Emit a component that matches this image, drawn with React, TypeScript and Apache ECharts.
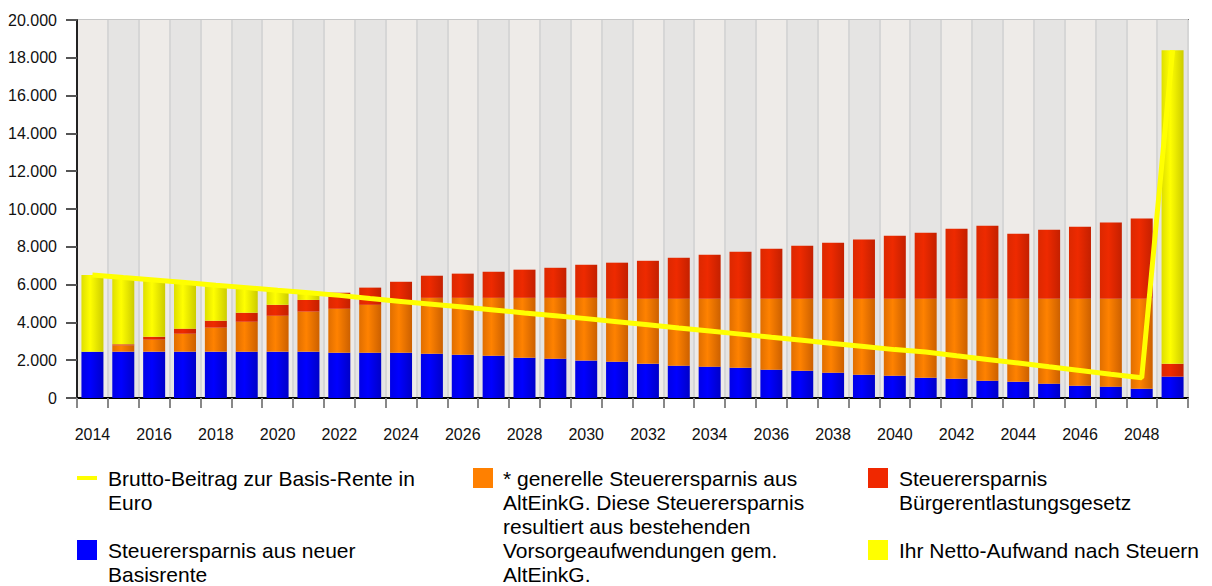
import React, { useEffect, useRef } from "react";
import * as echarts from "echarts";

const years = [
  "2014", "2015", "2016", "2017", "2018", "2019", "2020", "2021", "2022", "2023",
  "2024", "2025", "2026", "2027", "2028", "2029", "2030", "2031", "2032", "2033",
  "2034", "2035", "2036", "2037", "2038", "2039", "2040", "2041", "2042", "2043",
  "2044", "2045", "2046", "2047", "2048", "2049",
];

// Steuerersparnis aus neuer Basisrente (blue)
const blueSaving = [
  2450, 2450, 2450, 2450, 2450, 2450, 2450, 2450, 2400, 2400,
  2400, 2340, 2290, 2240, 2130, 2080, 1980, 1920, 1810, 1710,
  1660, 1600, 1500, 1440, 1340, 1230, 1180, 1070, 1020, 915,
  860, 760, 650, 600, 490, 1130,
];

// * generelle Steuerersparnis aus AltEinkG (orange)
const orangeSaving = [
  0, 335, 635, 950, 1270, 1590, 1900, 2120, 2320, 2530,
  2780, 2960, 3010, 3060, 3170, 3220, 3320, 3330, 3440, 3540,
  3590, 3650, 3750, 3810, 3910, 4020, 4070, 4180, 4230, 4335,
  4390, 4490, 4600, 4650, 4760, 0,
];

// Steuerersparnis Bürgerentlastungsgesetz (red)
const redSaving = [
  0, 55, 155, 270, 370, 470, 580, 620, 850, 910,
  970, 1170, 1280, 1380, 1490, 1590, 1750, 1910, 2010, 2170,
  2330, 2490, 2650, 2810, 2970, 3130, 3340, 3500, 3710, 3870,
  3440, 3650, 3810, 4030, 4250, 680,
];

// Ihr Netto-Aufwand nach Steuern (yellow)
const netCost = [
  4060, 3530, 3000, 2440, 1880, 1330, 770, 380, 0, 0,
  0, 0, 0, 0, 0, 0, 0, 0, 0, 0,
  0, 0, 0, 0, 0, 0, 0, 0, 0, 0,
  0, 0, 0, 0, 0, 16590,
];

// Brutto-Beitrag zur Basis-Rente in Euro (line)
const grossContribution = [
  6510, 6370, 6240, 6110, 5970, 5840, 5700, 5570, 5430, 5260,
  5110, 4960, 4810, 4660, 4500, 4350, 4200, 4040, 3870, 3700,
  3540, 3380, 3210, 3050, 2880, 2720, 2560, 2430, 2230, 2040,
  1850, 1650, 1460, 1260, 1070, 18400,
];

const nameGross = "Brutto-Beitrag zur Basis-Rente in\nEuro";
const nameBlue = "Steuerersparnis aus neuer\nBasisrente";
const nameOrange =
  "* generelle Steuerersparnis aus\nAltEinkG. Diese Steuerersparnis\nresultiert aus bestehenden\nVorsorgeaufwendungen gem.\nAltEinkG.";
const nameRed = "Steuerersparnis\nBürgerentlastungsgesetz";
const nameNet = "Ihr Netto-Aufwand nach Steuern";

const FONT = '"Liberation Sans", Arial, Helvetica, sans-serif';

function grad(a: string, b: string, c: string) {
  return new echarts.graphic.LinearGradient(0, 0, 1, 0, [
    { offset: 0, color: a },
    { offset: 0.4, color: b },
    { offset: 1, color: c },
  ]);
}

function fmt(v: number) {
  return String(v).replace(/\B(?=(\d{3})+(?!\d))/g, ".");
}

export default function App() {
  const ref = useRef<HTMLDivElement>(null);

  useEffect(() => {
    document.body.style.margin = "0";
    if (!ref.current) return;
    const chart = echarts.init(ref.current, undefined, { renderer: "svg" });

    const legendText = (x: number, y: number, text: string) => ({
      type: "text",
      x,
      y,
      silent: true,
      style: {
        text,
        fontSize: 21,
        fontFamily: FONT,
        lineHeight: 24,
        fill: "#000",
        verticalAlign: "top",
        align: "left",
      },
    });
    const legendBox = (x: number, y: number, w: number, h: number, color: string) => ({
      type: "rect",
      shape: { x, y, width: w, height: h },
      silent: true,
      style: { fill: color },
    });

    const option: any = {
      animation: false,
      backgroundColor: "#ffffff",
      textStyle: { fontFamily: FONT },
      grid: {
        left: 77,
        right: 24,
        top: 20,
        bottom: 188,
        show: true,
        borderColor: "#7a7a7a",
        borderWidth: 2,
        backgroundColor: "transparent",
      },
      xAxis: {
        type: "category",
        data: years,
        boundaryGap: true,
        axisLine: { show: true, lineStyle: { color: "#000", width: 2 } },
        axisTick: {
          show: true,
          interval: 0,
          length: 10,
          lineStyle: { color: "#888", width: 2 },
        },
        axisLabel: {
          interval: 1,
          margin: 28,
          fontSize: 16,
          color: "#111",
          fontFamily: FONT,
        },
        splitLine: {
          show: true,
          interval: 0,
          lineStyle: { color: "#D6D6D6", width: 2 },
        },
        splitArea: {
          show: true,
          interval: 0,
          areaStyle: { color: ["#EEEBE8", "#E5E4E3"] },
        },
      },
      yAxis: {
        type: "value",
        min: 0,
        max: 20000,
        interval: 2000,
        axisLine: { show: true, lineStyle: { color: "#222", width: 2 } },
        axisTick: { show: true, length: 11, lineStyle: { color: "#555", width: 2 } },
        axisLabel: {
          margin: 20,
          fontSize: 16,
          color: "#111",
          fontFamily: FONT,
          formatter: (v: number) => fmt(v),
        },
        splitLine: { show: true, lineStyle: { color: "#C6C6C6", width: 2 } },
      },
      series: [
        {
          name: nameBlue,
          type: "bar",
          stack: "total",
          barWidth: 22,
          data: blueSaving,
          itemStyle: { color: grad("#0000E6", "#0000FF", "#0000C8") },
        },
        {
          name: nameOrange,
          type: "bar",
          stack: "total",
          barWidth: 22,
          data: orangeSaving,
          itemStyle: { color: grad("#E06E00", "#FF8200", "#CC6000") },
        },
        {
          name: nameRed,
          type: "bar",
          stack: "total",
          barWidth: 22,
          data: redSaving,
          itemStyle: { color: grad("#DC2800", "#EE2A00", "#C42000") },
        },
        {
          name: nameNet,
          type: "bar",
          stack: "total",
          barWidth: 22,
          data: netCost,
          itemStyle: { color: grad("#DEDE00", "#FFFF00", "#CCCC00") },
        },
        {
          name: nameGross,
          type: "line",
          data: grossContribution,
          symbol: "none",
          z: 10,
          lineStyle: { color: "#FFFF00", width: 5 },
          itemStyle: { color: "#FFFF00" },
        },
      ],
      graphic: [
        legendBox(77, 476, 20, 4, "#FFFF00"),
        legendText(108, 466, nameGross),
        legendBox(77, 540, 20, 20, "#0000FF"),
        legendText(108, 538, nameBlue),
        legendBox(473, 468, 20, 20, "#FF8000"),
        legendText(503, 466, nameOrange),
        legendBox(868, 468, 20, 20, "#F02800"),
        legendText(899, 466, nameRed),
        legendBox(868, 540, 20, 20, "#FFFF00"),
        legendText(899, 538, nameNet),
      ],
    };

    chart.setOption(option);
    return () => chart.dispose();
  }, []);

  return (
    <div
      ref={ref}
      style={{ position: "absolute", left: 0, top: 0, width: 1212, height: 586 }}
    />
  );
}
